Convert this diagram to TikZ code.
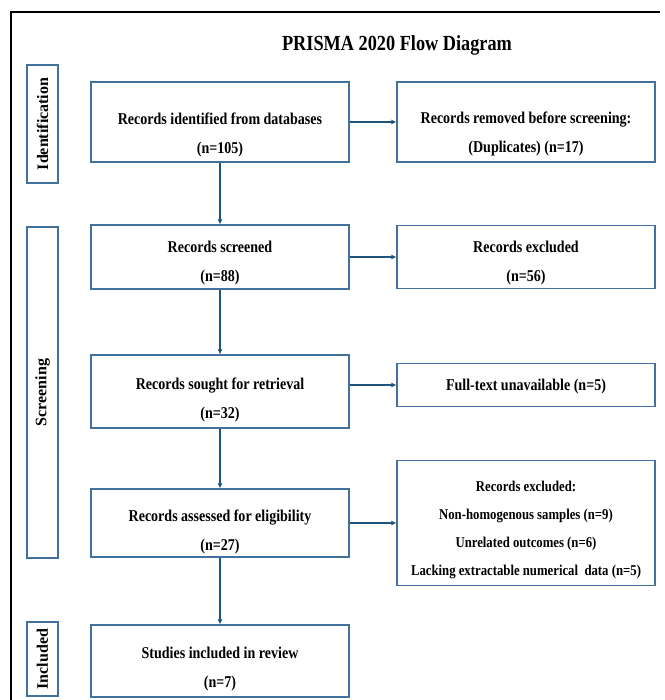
\documentclass[tikz,border=0pt]{standalone}
\usepackage{fontspec}
\setmainfont{Liberation Serif}
\newfontfamily\condfont{Liberation Serif}[FakeStretch=0.85]
\usetikzlibrary{arrows.meta,calc}
\definecolor{boxblue}{RGB}{65,113,156}
\definecolor{arrblue}{RGB}{31,84,125}
\begin{document}
\begin{tikzpicture}[x=1pt,y=-1pt,
  box/.style={draw=boxblue,line width=1.2pt,rectangle,inner sep=0pt},
  side/.style={draw=boxblue,line width=1.2pt,rectangle,inner sep=0pt,minimum width=31pt},
  txt/.style={font=\condfont\fontsize{16.5}{29}\selectfont\bfseries,align=center,inner sep=0pt},
  stxt/.style={font=\fontsize{16}{18}\selectfont\bfseries,rotate=90,inner sep=0pt},
  arr/.style={draw=arrblue,line width=1.8pt,-{Latex[length=5pt,width=5pt]}}]
\useasboundingbox (0,0) rectangle (664,700);
\fill[white] (0,0) rectangle (664,700);
\coordinate (ftl) at (11,12);
\coordinate (ftr) at (660,12);
\coordinate (fbl) at (11,700);
\draw[line width=2.5pt,black] (ftr) -- (ftl) -- (fbl);
\node[font=\condfont\fontsize{21.5}{24}\selectfont\bfseries] (title) at (397,45) {PRISMA 2020 Flow Diagram};
% side labels
\node[side,minimum height=118pt] (sid) at (42.5,124) {};
\node[stxt] (sidt) at (sid.center) {Identification};
\node[side,minimum height=331pt] (sscr) at (42.5,392.5) {};
\node[stxt] (sscrt) at (sscr.center) {Screening};
\node[side,minimum height=74pt] (sinc) at (42.5,659) {};
\node[stxt] (sinct) at (sinc.center) {Included};
% main boxes
\node[box,minimum width=258pt,minimum height=80pt] (b1) at (220,122) {};
\node[txt] (b1t) at (220,135) {Records identified from databases\\(n=105)};
\node[box,minimum width=258pt,minimum height=64pt] (b2) at (220,257) {};
\node[txt] (b2t) at (220,263) {Records screened\\(n=88)};
\node[box,minimum width=258pt,minimum height=73pt] (b3) at (220,391.5) {};
\node[txt] (b3t) at (220,400) {Records sought for retrieval\\(n=32)};
\node[box,minimum width=258pt,minimum height=68pt] (b4) at (220,523) {};
\node[txt] (b4t) at (220,532) {Records assessed for eligibility\\(n=27)};
\node[box,minimum width=258pt,minimum height=72pt] (b5) at (220,661) {};
\node[txt] (b5t) at (220,669) {Studies included in review\\(n=7)};
% right boxes
\node[box,minimum width=258pt,minimum height=80pt] (r1) at (526,122) {};
\node[txt] (r1t) at (526,134) {Records removed before screening:\\(Duplicates) (n=17)};
\node[box,minimum width=258pt,minimum height=63pt] (r2) at (526,257) {};
\node[txt] (r2t) at (526,263) {Records excluded\\(n=56)};
\node[box,minimum width=258pt,minimum height=43pt] (r3) at (526,385) {};
\node[txt] (r3t) at (526,387) {Full-text unavailable (n=5)};
\node[box,minimum width=258pt,minimum height=125pt] (r4) at (526,523) {};
\node[txt,font=\condfont\fontsize{15}{28}\selectfont\bfseries] (r4t) at (526,530) {Records excluded:\\Non-homogenous samples (n=9)\\Unrelated outcomes (n=6)\\Lacking extractable numerical\ \ data (n=5)};
% arrows
\draw[arr] (b1.south) -- (b2.north);
\draw[arr] (b2.south) -- (b3.north);
\draw[arr] (b3.south) -- (b4.north);
\draw[arr] (b4.south) -- (b5.north);
\draw[arr] (b1.east) -- (r1.west);
\draw[arr] (b2.east) -- (r2.west);
\draw[arr] (r3.west -| b3.east) -- (r3.west);
\draw[arr] (b4.east) -- (r4.west);
\end{tikzpicture}
\end{document}
